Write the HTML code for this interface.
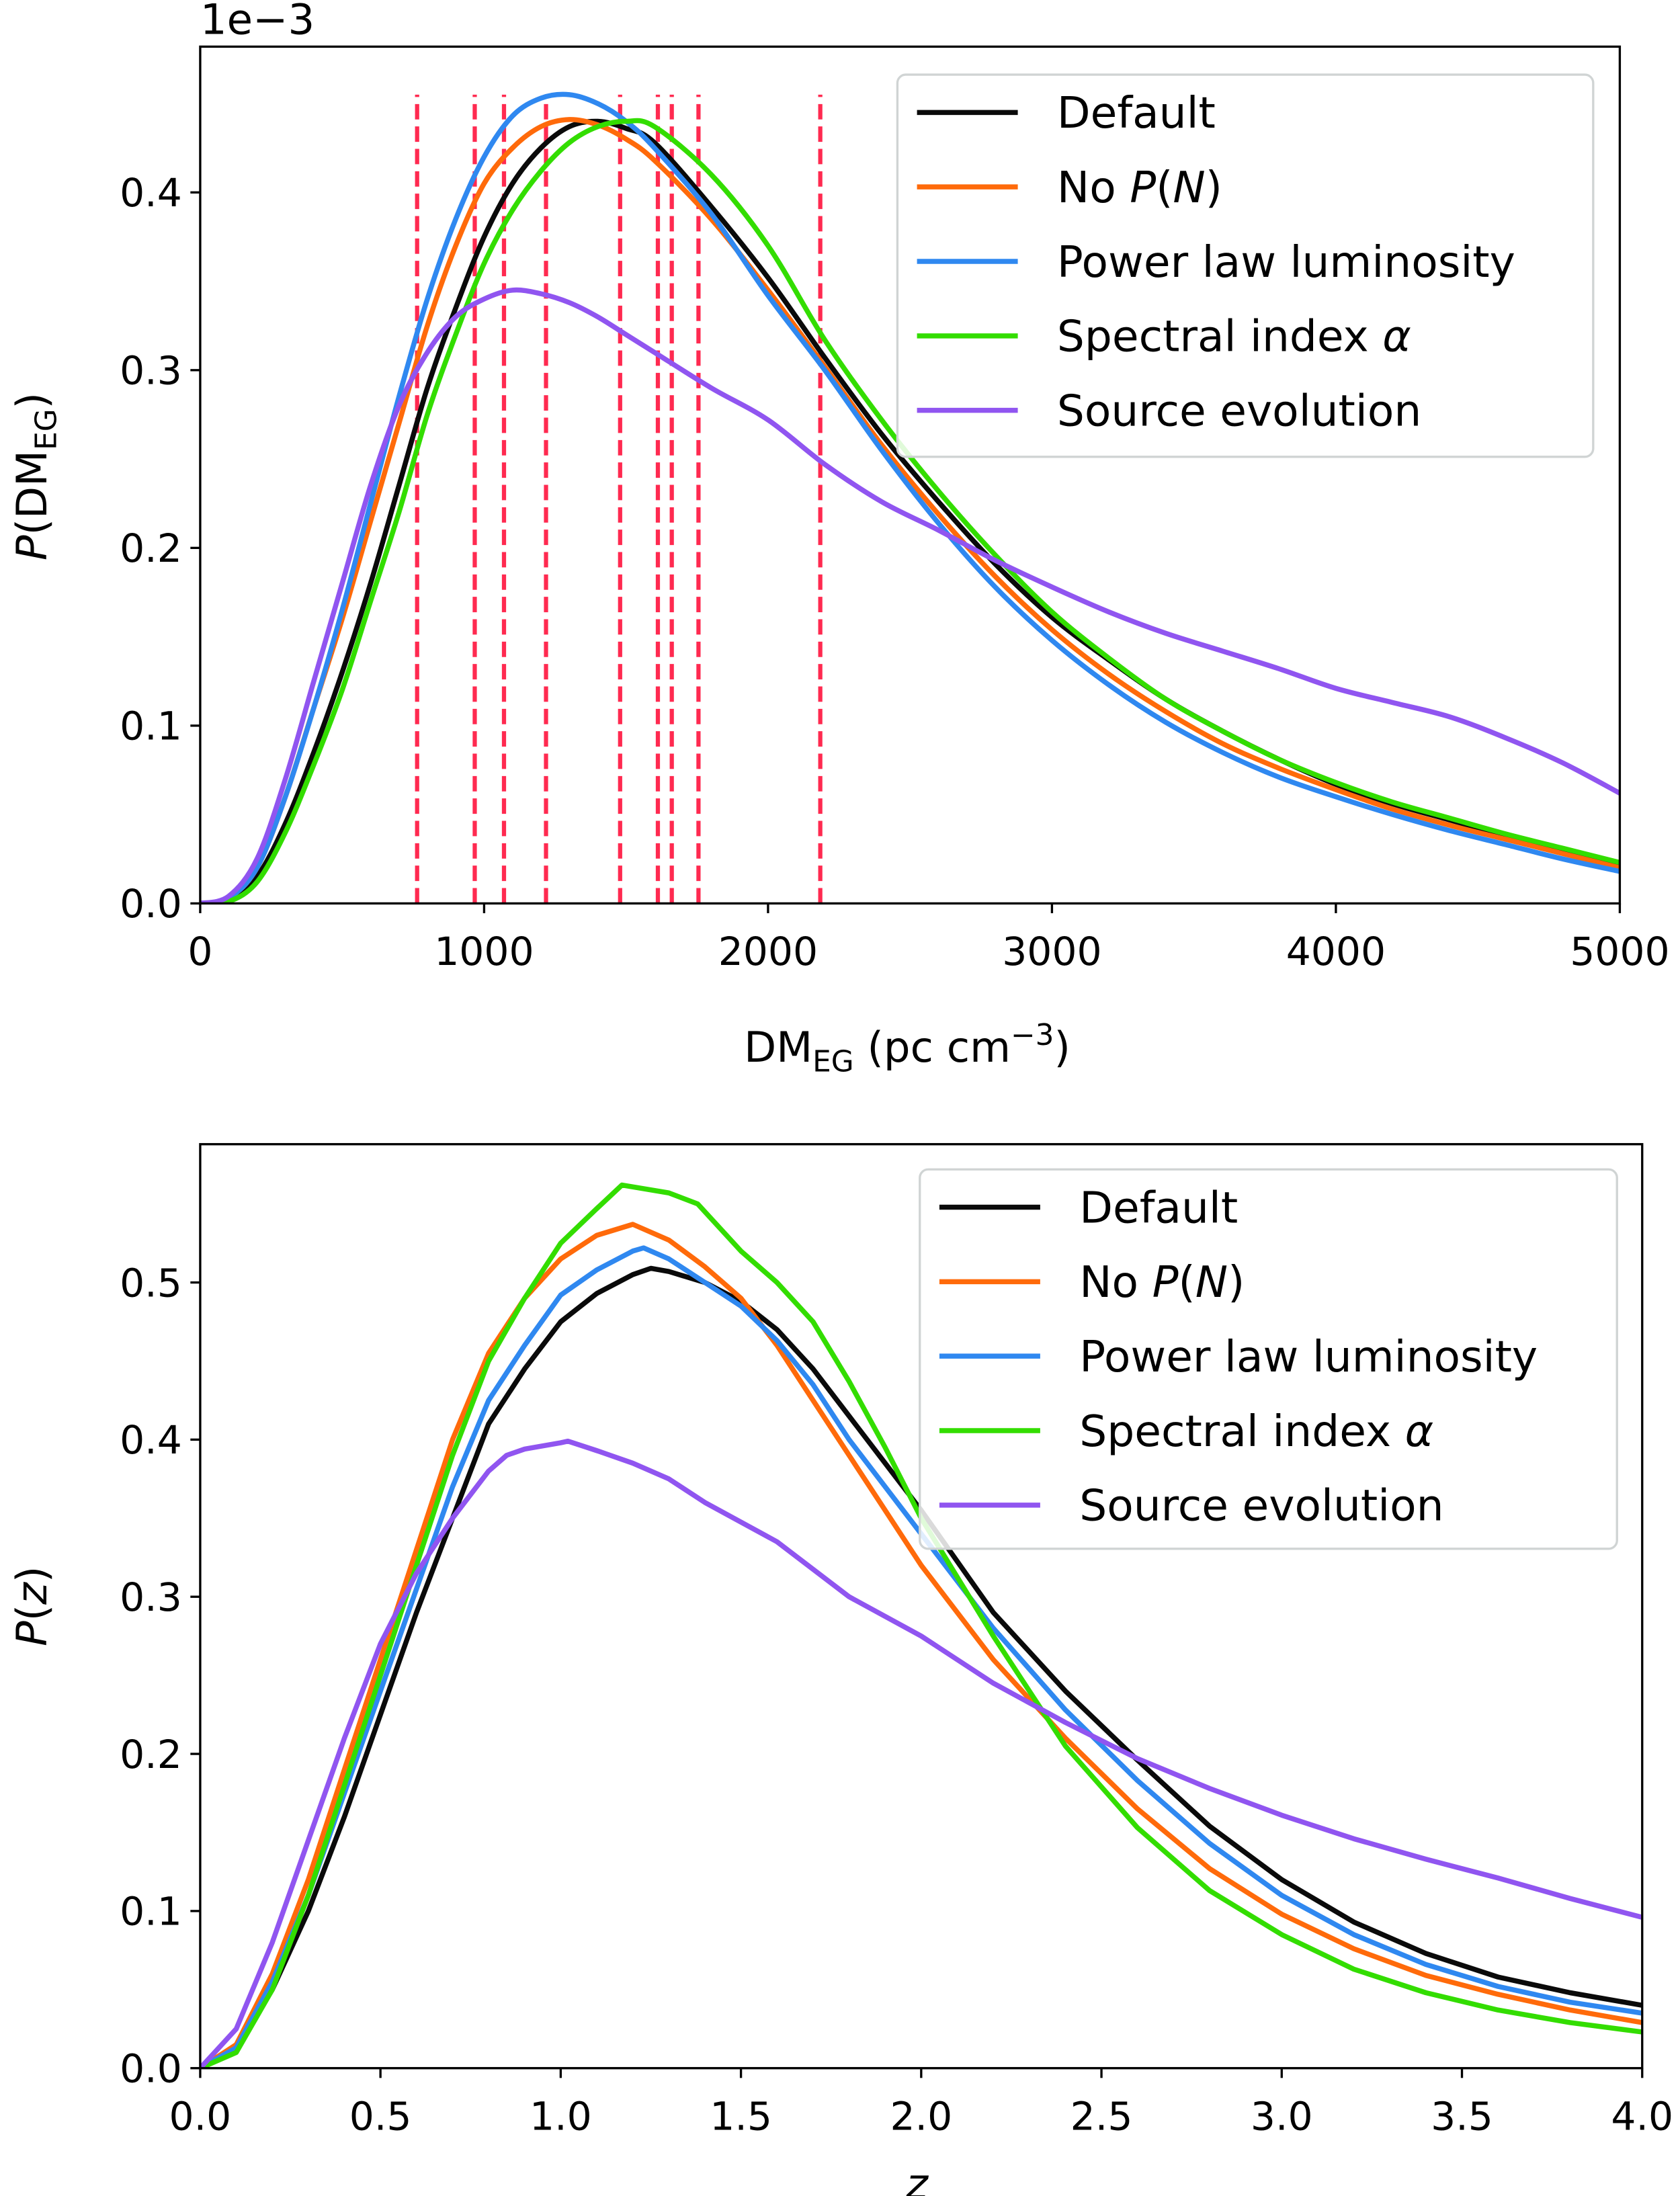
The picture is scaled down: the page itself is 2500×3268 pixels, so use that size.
<!DOCTYPE html>
<html><head><meta charset="utf-8"><style>
html,body{margin:0;padding:0;background:#fff;}
svg{display:block;}
text{font-family:"DejaVu Sans","Liberation Sans",sans-serif;fill:#000;}
</style></head><body>
<svg id="fig" width="2500" height="3268" viewBox="0 0 1200 1568" xmlns="http://www.w3.org/2000/svg">
<g id="panelTop"></g>
<g id="panelBot"></g>
<text x="143" y="24" font-size="30">1e−3</text>
<text x="648" y="758" text-anchor="middle" font-size="30">DM<tspan font-size="21" dy="7">EG</tspan><tspan dy="-7"> (pc cm</tspan><tspan font-size="21" dy="-12">−3</tspan><tspan dy="12">)</tspan></text>
<text transform="translate(33,340) rotate(-90)" text-anchor="middle" font-size="30"><tspan font-style="italic">P</tspan>(DM<tspan font-size="21" dy="7">EG</tspan><tspan dy="-7">)</tspan></text>
<text x="655" y="1570" text-anchor="middle" font-size="30" font-style="italic">z</text>
<text transform="translate(33,1147) rotate(-90)" text-anchor="middle" font-size="30"><tspan font-style="italic">P</tspan>(<tspan font-style="italic">z</tspan>)</text>
</svg>
<script>
const dmX=[0,100,200,300,400,500,600,700,800,900,1000,1100,1200,1300,1400,1500,1600,1800,2000,2200,2400,2600,2800,3000,3200,3400,3600,3800,4000,4200,4400,4600,4800,5000];
const dmDefault=[0,0.002,0.015,0.045,0.085,0.13,0.18,0.235,0.29,0.335,0.375,0.405,0.425,0.437,0.44,0.436,0.428,0.392,0.352,0.307,0.264,0.226,0.191,0.161,0.137,0.115,0.097,0.081,0.067,0.056,0.047,0.038,0.03,0.022];
const dmNoPN=[0,0.003,0.02,0.06,0.11,0.16,0.215,0.27,0.325,0.37,0.405,0.425,0.437,0.441,0.438,0.43,0.418,0.385,0.345,0.302,0.258,0.219,0.184,0.154,0.129,0.108,0.09,0.076,0.064,0.053,0.044,0.036,0.028,0.02];
const dmPower=[0,0.003,0.02,0.06,0.11,0.165,0.225,0.285,0.34,0.385,0.42,0.443,0.453,0.455,0.45,0.44,0.425,0.388,0.342,0.3,0.255,0.214,0.178,0.148,0.123,0.102,0.085,0.071,0.06,0.05,0.041,0.033,0.025,0.018];
const dmSpectral=[0,0.001,0.012,0.04,0.078,0.12,0.17,0.22,0.275,0.32,0.36,0.39,0.412,0.428,0.437,0.44,0.437,0.41,0.37,0.317,0.272,0.232,0.196,0.164,0.138,0.115,0.097,0.081,0.068,0.057,0.048,0.039,0.031,0.023];
const dmSource=[0,0.004,0.025,0.07,0.125,0.18,0.235,0.28,0.31,0.33,0.34,0.345,0.343,0.338,0.33,0.32,0.31,0.29,0.272,0.247,0.226,0.21,0.193,0.178,0.164,0.152,0.142,0.132,0.121,0.113,0.105,0.093,0.079,0.062];
const frbDM=[764,967,1070,1218,1479,1612,1661,1755,2184];
const dmXTicks=[0,1000,2000,3000,4000,5000];
const dmYTicks=[0,0.1,0.2,0.3,0.4];
const zDefX=[0,0.1,0.2,0.3,0.4,0.5,0.6,0.7,0.8,0.9,1.0,1.1,1.2,1.25,1.3,1.4,1.5,1.6,1.7,1.8,1.9,2.0,2.2,2.4,2.6,2.8,3.0,3.2,3.4,3.6,3.8,4.0];
const zDefault=[0,0.012,0.05,0.1,0.16,0.225,0.29,0.35,0.41,0.445,0.475,0.493,0.505,0.509,0.507,0.5,0.488,0.47,0.445,0.415,0.385,0.355,0.29,0.24,0.196,0.154,0.12,0.093,0.073,0.058,0.048,0.04];
const zX=[0,0.1,0.2,0.3,0.4,0.5,0.6,0.7,0.8,0.9,1.0,1.1,1.2,1.3,1.4,1.5,1.6,1.7,1.8,1.9,2.0,2.2,2.4,2.6,2.8,3.0,3.2,3.4,3.6,3.8,4.0];
const zNoPN=[0,0.015,0.06,0.12,0.19,0.26,0.33,0.4,0.455,0.49,0.515,0.53,0.537,0.527,0.51,0.49,0.46,0.425,0.39,0.355,0.32,0.26,0.21,0.165,0.127,0.098,0.076,0.059,0.047,0.037,0.029];
const zPowX=[0,0.1,0.2,0.3,0.4,0.5,0.6,0.7,0.8,0.9,1.0,1.1,1.2,1.23,1.3,1.4,1.5,1.6,1.7,1.8,1.9,2.0,2.2,2.4,2.6,2.8,3.0,3.2,3.4,3.6,3.8,4.0];
const zPower=[0,0.013,0.055,0.11,0.175,0.24,0.305,0.37,0.425,0.46,0.492,0.508,0.52,0.522,0.515,0.5,0.485,0.463,0.435,0.4,0.37,0.34,0.28,0.228,0.183,0.143,0.11,0.085,0.066,0.052,0.042,0.035];
const zSpecX=[0,0.1,0.2,0.3,0.4,0.5,0.6,0.7,0.8,0.9,1.0,1.1,1.17,1.3,1.38,1.5,1.6,1.7,1.8,1.9,2.0,2.2,2.4,2.6,2.8,3.0,3.2,3.4,3.6,3.8,4.0];
const zSpectral=[0,0.01,0.05,0.11,0.18,0.25,0.32,0.39,0.45,0.49,0.525,0.547,0.562,0.557,0.55,0.52,0.5,0.475,0.437,0.395,0.35,0.275,0.205,0.153,0.113,0.085,0.063,0.048,0.037,0.029,0.023];
const zSrcX=[0,0.1,0.2,0.3,0.4,0.5,0.6,0.7,0.8,0.85,0.9,1.0,1.02,1.1,1.2,1.3,1.4,1.6,1.8,2.0,2.2,2.4,2.6,2.8,3.0,3.2,3.4,3.6,3.8,4.0];
const zSource=[0,0.025,0.08,0.145,0.21,0.27,0.315,0.35,0.38,0.39,0.394,0.398,0.399,0.393,0.385,0.375,0.36,0.335,0.3,0.275,0.245,0.22,0.197,0.178,0.161,0.146,0.133,0.121,0.108,0.096];
const zXTicks=[0,0.5,1.0,1.5,2.0,2.5,3.0,3.5,4.0];
const zYTicks=[0,0.1,0.2,0.3,0.4,0.5];
const colors=["#0a0a0a","#ff6a0a","#2f88f0","#33dd00","#9055f0"];

const NS="http://www.w3.org/2000/svg";
function mk(parent,tag,attrs){const e=document.createElementNS(NS,tag);for(const k in attrs)e.setAttribute(k,attrs[k]);parent.appendChild(e);return e;}
function addLegendText(t,i){
  const parts=[
    [["Default",false]],
    [["No ",false],["P",true],["(",false],["N",true],[")",false]],
    [["Power law luminosity",false]],
    [["Spectral index ",false],["α",true]],
    [["Source evolution",false]]
  ][i];
  parts.forEach(p=>{const s=mk(t,'tspan',{});if(p[1])s.setAttribute('font-style','italic');s.textContent=p[0];});
}
function smoothPath(pts){
  let d='M'+pts[0][0].toFixed(2)+','+pts[0][1].toFixed(2);
  for(let i=0;i<pts.length-1;i++){
    const p0=pts[Math.max(0,i-1)],p1=pts[i],p2=pts[i+1],p3=pts[Math.min(pts.length-1,i+2)];
    const c1x=p1[0]+(p2[0]-p0[0])/6,c1y=p1[1]+(p2[1]-p0[1])/6;
    const c2x=p2[0]-(p3[0]-p1[0])/6,c2y=p2[1]-(p3[1]-p1[1])/6;
    d+='C'+c1x.toFixed(2)+','+c1y.toFixed(2)+' '+c2x.toFixed(2)+','+c2y.toFixed(2)+' '+p2[0].toFixed(2)+','+p2[1].toFixed(2);
  }
  return d;
}

function panel(g,o){
  const sx=v=>o.x0+(v-o.xmin)/(o.xmax-o.xmin)*(o.x1-o.x0);
  const sy=v=>o.y0-(v-o.ymin)/(o.ymax-o.ymin)*(o.y0-o.y1);
  const clip=mk(g,'clipPath',{id:o.id+'clip'});
  mk(clip,'rect',{x:o.x0,y:o.y1,width:o.x1-o.x0,height:o.y0-o.y1});
  const plot=mk(g,'g',{'clip-path':'url(#'+o.id+'clip)'});
  if(o.vlines){o.vlines.forEach(v=>{
    const l=mk(plot,'line',{x1:sx(v),x2:sx(v),y1:sy(0),y2:sy(0.455),stroke:'#ff2a50','stroke-width':3,'stroke-dasharray':'11,5'});
    
    
  });}
  o.series.forEach((s,i)=>{
    const pts=s.x.map((x,j)=>[sx(x),sy(s.y[j])]);
    const p=mk(plot,'path',{d:o.smooth?smoothPath(pts):pts.map((q,j)=>(j?'L':'M')+q[0].toFixed(2)+','+q[1].toFixed(2)).join(''),fill:'none',stroke:colors[i],'stroke-width':3.6,'stroke-linejoin':'round'});
    
    
  });
  const ax=mk(g,'rect',{x:o.x0,y:o.y1,width:o.x1-o.x0,height:o.y0-o.y1,fill:'none',stroke:'#000','stroke-width':1.6});
  
  
  o.xt.forEach((t,i)=>{
    mk(g,'line',{x1:sx(t),x2:sx(t),y1:o.y0,y2:o.y0+7,stroke:'#000','stroke-width':1.6});
    const tx=mk(g,'text',{x:sx(t),y:o.y0+44,'text-anchor':'middle','font-size':28});
    tx.textContent=o.xl[i];
    
    
  });
  o.yt.forEach((t)=>{
    mk(g,'line',{x1:o.x0-7,x2:o.x0,y1:sy(t),y2:sy(t),stroke:'#000','stroke-width':1.6});
    const tx=mk(g,'text',{x:o.x0-13,y:sy(t)+10,'text-anchor':'end','font-size':28});
    tx.textContent=t.toFixed(1);
    
    
  });
  const L=o.leg;
  const lg=mk(g,'g',{});
  
  
  mk(lg,'rect',{x:L.x,y:L.y,width:L.w,height:L.h,rx:6,fill:'#fff','fill-opacity':0.85,stroke:'#d0d4d4','stroke-width':1.6});
  for(let i=0;i<5;i++){
    const yy=L.y+27+i*53.2;
    mk(lg,'line',{x1:L.x+14,x2:L.x+86,y1:yy,y2:yy,stroke:colors[i],'stroke-width':3.6});
    const t=mk(lg,'text',{x:L.x+114,y:yy+11,'font-size':31});
    addLegendText(t,i);
    
    
  }
}

panel(document.getElementById('panelTop'),{id:'t',smooth:true,x0:143,x1:1157,y0:645,y1:33,xmin:0,xmax:5000,ymin:0,ymax:0.482,
  xt:dmXTicks,xl:dmXTicks.map(String),yt:dmYTicks,vlines:frbDM,
  series:[{x:dmX,y:dmDefault,name:'default-line'},{x:dmX,y:dmNoPN,name:'no-pn-line'},{x:dmX,y:dmPower,name:'power-law-line'},{x:dmX,y:dmSpectral,name:'spectral-index-line'},{x:dmX,y:dmSource,name:'source-evolution-line'}],
  leg:{x:641,y:53,w:497,h:273}});
panel(document.getElementById('panelBot'),{id:'b',smooth:false,x0:143,x1:1173,y0:1477,y1:817,xmin:0,xmax:4.0,ymin:0,ymax:0.588,
  xt:zXTicks,xl:zXTicks.map(v=>v.toFixed(1)),yt:zYTicks,
  series:[{x:zDefX,y:zDefault,name:'default-line'},{x:zX,y:zNoPN,name:'no-pn-line'},{x:zPowX,y:zPower,name:'power-law-line'},{x:zSpecX,y:zSpectral,name:'spectral-index-line'},{x:zSrcX,y:zSource,name:'source-evolution-line'}],
  leg:{x:657,y:835,w:498,h:271}});
</script>
</body></html>
